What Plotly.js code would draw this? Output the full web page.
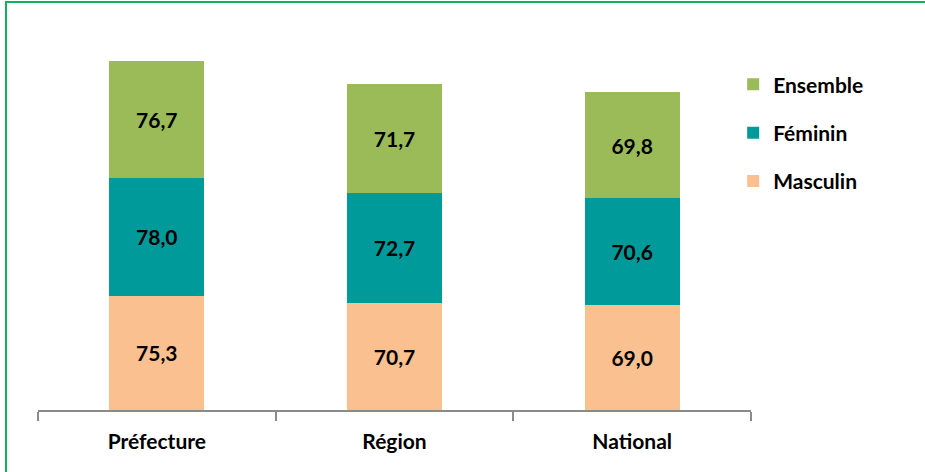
<!DOCTYPE html>
<html>
<head>
<meta charset="utf-8">
<script src="https://cdn.plot.ly/plotly-3.0.1.min.js"></script>
<style>
  html, body { margin: 0; padding: 0; background: #fff; }
  #chart { position: absolute; left: 0; top: 0; width: 925px; height: 472px; }
  #frame { position: absolute; left: 5px; top: 1px; width: 940px; height: 490px;
           border-left: 2px solid #12b05a; border-top: 2px solid #12b05a; pointer-events: none; }
</style>
</head>
<body>
<div id="chart"></div>
<div id="frame"></div>
<script>
const categories = ["Préfecture", "Région", "National"];
const masculin = [75.3, 70.7, 69.0];
const feminin = [78.0, 72.7, 70.6];
const ensemble = [76.7, 71.7, 69.8];

const fmt = v => v.toFixed(1).replace(".", ",");
const fontFam = "Lato, 'Open Sans', sans-serif";

function mk(name, vals, color, grp, rank) {
  return {
    type: "bar", name: name, x: categories, y: vals,
    marker: { color: color },
    text: vals.map(fmt), textposition: "inside", insidetextanchor: "middle",
    textfont: { family: fontFam, size: 21, color: "#000", weight: "bold" },
    width: 0.4, legendgroup: grp, legendrank: rank, hoverinfo: "skip"
  };
}

const data = [
  mk("Masculin", masculin, "#FAC090", "m", 3),
  mk("Féminin", feminin, "#009A9A", "f", 2),
  mk("Ensemble", ensemble, "#9BBB59", "e", 1)
];

const layout = {
  width: 925, height: 472,
  margin: { l: 38, r: 174, t: 46, b: 62 },
  barmode: "stack",
  paper_bgcolor: "#fff", plot_bgcolor: "#fff",
  showlegend: true,
  legend: {
    x: 0.975, xanchor: "left", y: 0.95, yanchor: "top",
    xref: "paper", yref: "paper",
    traceorder: "grouped", tracegroupgap: 18,
    font: { family: fontFam, size: 21, color: "#000", weight: "bold" },
    itemwidth: 30
  },
  xaxis: {
    type: "category", range: [-0.5, 2.5],
    showline: true, linecolor: "#8a8a8a", linewidth: 2,
    ticks: "outside", tickson: "boundaries", ticklen: 9, tickcolor: "#8a8a8a", tickwidth: 2,
    ticklabelstandoff: 12,
    tickfont: { family: fontFam, size: 21, color: "#000", weight: "bold" },
    showgrid: false, zeroline: false, fixedrange: true
  },
  yaxis: {
    range: [0, 240], visible: false, showgrid: false, zeroline: false, fixedrange: true
  }
};

Plotly.newPlot("chart", data, layout, { staticPlot: true, displayModeBar: false });
</script>
</body>
</html>
